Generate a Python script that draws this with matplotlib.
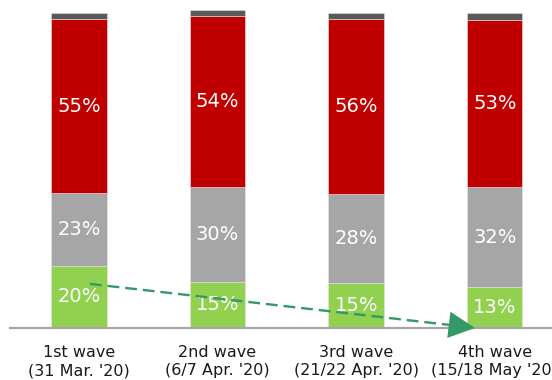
import matplotlib
matplotlib.use("Agg")
import matplotlib.pyplot as plt
import numpy as np

categories = ["1st wave\n(31 Mar. '20)", "2nd wave\n(6/7 Apr. '20)",
              "3rd wave\n(21/22 Apr. '20)", "4th wave\n(15/18 May '20)"]
green_vals = [19.7, 14.7, 14.2, 12.9]
grey_vals = [23.2, 30.2, 28.3, 31.8]
red_vals = [55.1, 54.1, 55.7, 53.1]
other_vals = [2.0, 2.0, 1.8, 2.1]
green_labels = ["20%", "15%", "15%", "13%"]
grey_labels = ["23%", "30%", "28%", "32%"]
red_labels = ["55%", "54%", "56%", "53%"]

plt.rcParams['font.family'] = ['DejaVu Sans']
fig = plt.figure(figsize=(5.52, 3.8), dpi=100)
ax = fig.add_axes([10/552, 52/380, 1 - 10/552, 1 - 52/380])

x = np.arange(len(categories))
w = 0.40
colors = ["#92D050", "#A6A6A6", "#C00000", "#595959"]
series = [green_vals, grey_vals, red_vals, other_vals]
labels = [green_labels, grey_labels, red_labels, None]
bottom = np.zeros(len(x))
for vals, col, labs in zip(series, colors, labels):
    vals = np.array(vals)
    ax.bar(x, vals, w, bottom=bottom, color=col, edgecolor="#e4e4e4", linewidth=0.4, zorder=2)
    if labs is not None:
        for xi, b, v, t in zip(x, bottom, vals, labs):
            ax.text(xi, b + v / 2, t, ha="center", va="center", color="white", fontsize=14, zorder=4)
    bottom += vals

ax.set_xlim(-0.497, 3.413)
ax.set_ylim(0, 104.1)
for s in ["top", "right", "left"]:
    ax.spines[s].set_visible(False)
ax.spines["bottom"].set_color("#A6A6A6")
ax.spines["bottom"].set_linewidth(1.6)
ax.set_yticks([])
ax.set_xticks(x)
ax.set_xticklabels(categories, fontsize=11.5, color="#1a1a1a", linespacing=1.3)
ax.tick_params(axis="x", length=0, pad=12)

# trend arrow
ax.plot([0.08, 2.68], [14.0, 0.95], linestyle=(0, (5, 2.5)), color="#339966", linewidth=1.7,
        zorder=5, clip_on=False)
ax.annotate("", xy=(2.858, 0.0), xytext=(2.66, 1.05),
            arrowprops=dict(arrowstyle="-|>,head_length=1.9,head_width=0.95", color="#339966", lw=0,
                            shrinkA=0, shrinkB=0), zorder=6, annotation_clip=False)

fig.savefig("out.png", dpi=100)
